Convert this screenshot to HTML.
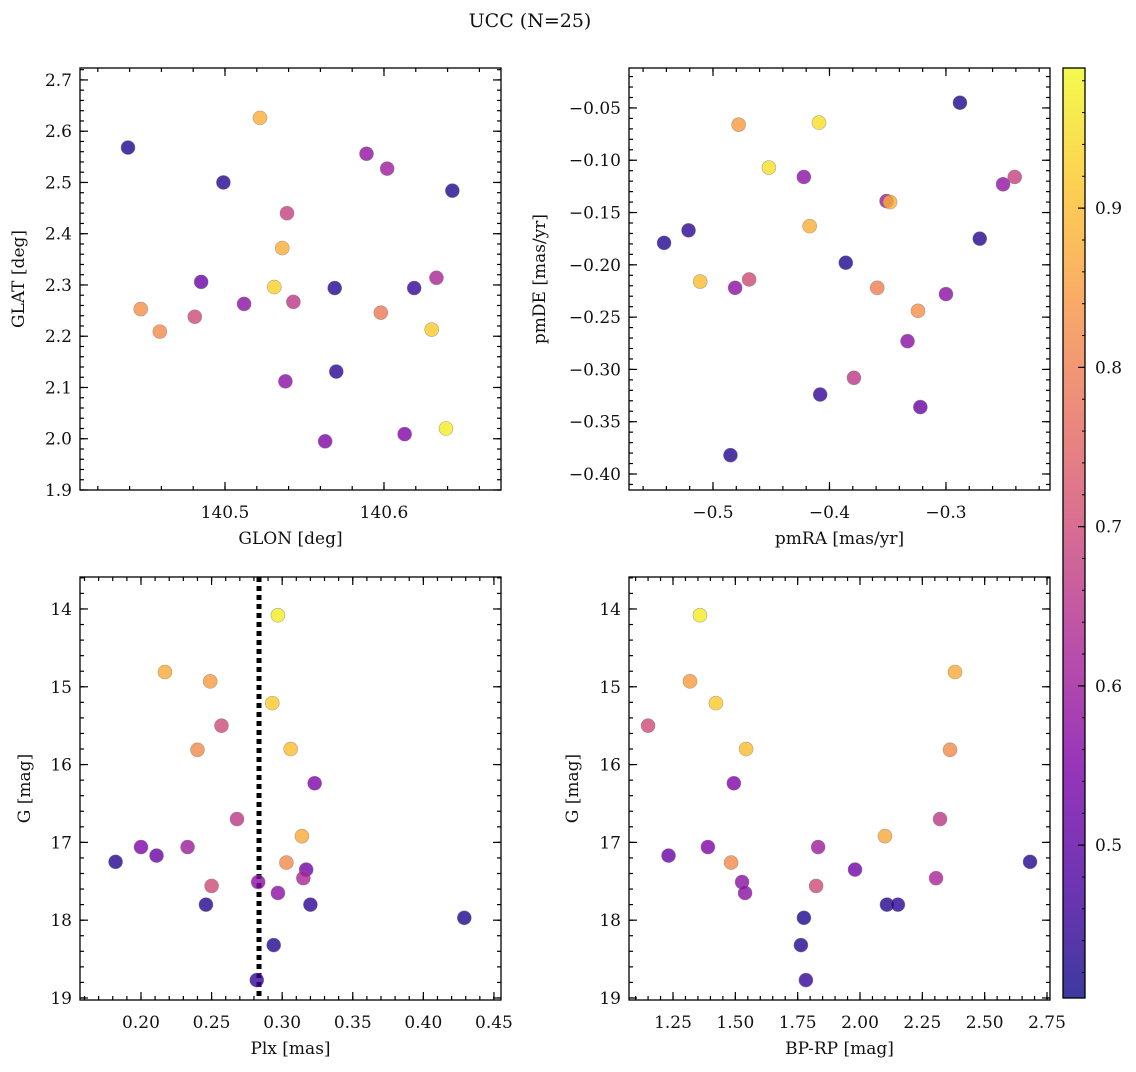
<!DOCTYPE html>
<html><head><meta charset="utf-8"><style>
html,body{margin:0;padding:0;background:#fff;}
svg text{font-family:"DejaVu Serif","Liberation Serif",serif;fill:#111;}
</style></head><body>
<svg id="fig" width="1136" height="1067" viewBox="0 0 1136 1067" xmlns="http://www.w3.org/2000/svg">
<defs>
<linearGradient id="plasma" x1="0" y1="1" x2="0" y2="0">
<stop offset="0" stop-color="#0d0887"/><stop offset="0.125" stop-color="#4c02a1"/><stop offset="0.25" stop-color="#7e03a8"/><stop offset="0.375" stop-color="#a92395"/><stop offset="0.5" stop-color="#cc4778"/><stop offset="0.625" stop-color="#e66c5c"/><stop offset="0.75" stop-color="#f89540"/><stop offset="0.875" stop-color="#fdc527"/><stop offset="1" stop-color="#f0f921"/>
</linearGradient>
</defs>
<text x="530" y="27" font-size="19" text-anchor="middle">UCC (N=25)</text>
</svg>
<script>
const probP1 = [0.42,0.88,0.43,0.58,0.60,0.42,0.68,0.88,0.93,0.83,0.52,0.82,0.70,0.57,0.66,0.43,0.79,0.45,0.62,0.92,0.57,0.44,0.55,0.55,0.97];
const glon = [140.439,140.522,140.499,140.589,140.602,140.643,140.539,140.536,140.531,140.447,140.485,140.459,140.481,140.512,140.543,140.569,140.598,140.619,140.633,140.630,140.538,140.570,140.563,140.613,140.639];
const glat = [2.568,2.626,2.500,2.556,2.527,2.484,2.440,2.372,2.296,2.253,2.306,2.209,2.238,2.263,2.267,2.294,2.246,2.294,2.314,2.213,2.112,2.131,1.995,2.009,2.020];

const probP2 = [0.42,0.85,0.95,0.95,0.57,0.58,0.68,0.60,0.88,0.43,0.44,0.88,0.43,0.42,0.90,0.57,0.70,0.80,0.57,0.83,0.57,0.66,0.45,0.52,0.43];
const pmra = [-0.288,-0.478,-0.409,-0.452,-0.422,-0.251,-0.241,-0.351,-0.348,-0.542,-0.521,-0.417,-0.271,-0.386,-0.511,-0.481,-0.469,-0.359,-0.300,-0.324,-0.333,-0.379,-0.408,-0.322,-0.485];
const pmde = [-0.045,-0.066,-0.064,-0.107,-0.116,-0.123,-0.116,-0.139,-0.140,-0.179,-0.167,-0.163,-0.175,-0.198,-0.216,-0.222,-0.214,-0.222,-0.228,-0.244,-0.273,-0.308,-0.324,-0.336,-0.382];

const probP3 = [0.97,0.87,0.85,0.92,0.70,0.82,0.90,0.55,0.66,0.87,0.43,0.55,0.52,0.60,0.82,0.53,0.62,0.70,0.57,0.57,0.43,0.44,0.42,0.43,0.45];
const gmag = [14.08,14.81,14.93,15.21,15.50,15.81,15.80,16.24,16.70,16.92,17.25,17.06,17.17,17.06,17.26,17.35,17.46,17.56,17.51,17.65,17.80,17.80,17.97,18.32,18.77];
const plx = [0.297,0.217,0.249,0.293,0.257,0.240,0.306,0.323,0.268,0.314,0.182,0.200,0.211,0.233,0.303,0.317,0.315,0.250,0.283,0.297,0.246,0.320,0.429,0.294,0.282];
const bprp = [1.358,2.381,1.318,1.422,1.150,2.361,1.543,1.494,2.321,2.100,2.682,1.390,1.232,1.832,1.483,1.980,2.305,1.824,1.527,1.539,2.108,2.152,1.775,1.763,1.783];
const plxMedian = [0.2836];

const cbTicks = [0.5,0.6,0.7,0.8,0.9];
const cbRange = [0.404,0.988];

const svg = document.getElementById('fig');
const NS = 'http://www.w3.org/2000/svg';
function mk(tag, attrs, parent){ const e=document.createElementNS(NS,tag); for(const k in attrs) e.setAttribute(k,attrs[k]); (parent||svg).appendChild(e); return e; }

const stops=[[0,[13,8,135]],[0.125,[76,2,161]],[0.25,[126,3,168]],[0.375,[169,35,149]],[0.5,[204,71,120]],[0.625,[230,108,92]],[0.75,[248,149,64]],[0.875,[253,197,39]],[1,[240,249,33]]];
function plasma(t){ t=Math.max(0,Math.min(1,t)); for(let i=1;i<stops.length;i++){ if(t<=stops[i][0]){ const a=stops[i-1],b=stops[i]; const f=(t-a[0])/(b[0]-a[0]); const c=a[1].map((v,j)=>Math.round(v+(b[1][j]-v)*f)); return 'rgb('+c.join(',')+')'; } } return 'rgb(240,249,33)'; }

function fmt(v,d){ let s=v.toFixed(d); if(s.startsWith('-')) s='\u2212'+s.slice(1); return s; }

function panel(cfg){
  const g=mk('g',{});
  
  
  const L=cfg.box[0],T=cfg.box[1],R=cfg.box[2],B=cfg.box[3];
  const sx=v=>L+(v-cfg.xd[0])/(cfg.xd[1]-cfg.xd[0])*(R-L);
  const sy=v=>cfg.yinv? T+(v-cfg.yd[0])/(cfg.yd[1]-cfg.yd[0])*(B-T) : B-(v-cfg.yd[0])/(cfg.yd[1]-cfg.yd[0])*(B-T);
  const tg=mk('g',{},g);
  
  
  function ticksX(step,len,labels,dec){
    const s=Math.ceil(cfg.xd[0]/step-1e-6);
    for(let i=s;i*step<=cfg.xd[1]+1e-9;i++){ const v=i*step, x=sx(v);
      mk('line',{x1:x,x2:x,y1:B,y2:B-len,stroke:'#000','stroke-width':1.2},tg);
      mk('line',{x1:x,x2:x,y1:T,y2:T+len,stroke:'#000','stroke-width':1.2},tg);
      if(labels){ const t=mk('text',{x:x,y:B+28,'font-size':17,'text-anchor':'middle'},tg); t.textContent=fmt(v,dec);
          }
    }
  }
  function ticksY(step,len,labels,dec){
    const lo=Math.min(cfg.yd[0],cfg.yd[1]),hi=Math.max(cfg.yd[0],cfg.yd[1]);
    const s=Math.ceil(lo/step-1e-6);
    for(let i=s;i*step<=hi+1e-9;i++){ const v=i*step, y=sy(v);
      mk('line',{x1:L,x2:L+len,y1:y,y2:y,stroke:'#000','stroke-width':1.2},tg);
      mk('line',{x1:R,x2:R-len,y1:y,y2:y,stroke:'#000','stroke-width':1.2},tg);
      if(labels){ const t=mk('text',{x:L-8,y:y+6,'font-size':17,'text-anchor':'end'},tg); t.textContent=fmt(v,dec);
          }
    }
  }
  ticksX(cfg.xmin,4,false); ticksX(cfg.xmaj,8,true,cfg.xdec);
  ticksY(cfg.ymin,4,false); ticksY(cfg.ymaj,8,true,cfg.ydec);
  if(cfg.vline!==undefined){
    const x=sx(cfg.vline);
    const vl=mk('line',{x1:x,x2:x,y1:T,y2:B,stroke:'#000','stroke-width':5,'stroke-dasharray':'5 4'},g);
     
  }
  cfg.x.forEach((xv,i)=>{
    const t=(cfg.c[i]-cbRange[0])/(cbRange[1]-cbRange[0]);
    const p=mk('circle',{cx:sx(xv),cy:sy(cfg.y[i]),r:7,fill:plasma(t),'fill-opacity':0.8,stroke:'#777','stroke-opacity':0.6,'stroke-width':0.6},g);
    
    
  });
  const fr=mk('rect',{x:L,y:T,width:R-L,height:B-T,fill:'none',stroke:'#000','stroke-width':1.3},g);
   
  const xl=mk('text',{x:(L+R)/2,y:B+54,'font-size':17,'text-anchor':'middle'},g); xl.textContent=cfg.xlabel;
   
  const cy=(T+B)/2, cx=cfg.ylx;
  const yl=mk('text',{x:cx,y:cy,'font-size':17,'text-anchor':'middle',transform:'rotate(-90 '+cx+' '+cy+')'},g); yl.textContent=cfg.ylabel;
   
}

panel({name:'glon-glat-panel',box:[80,68,501,490],xd:[140.4088,140.6736],yd:[1.9,2.7233],x:glon,y:glat,c:probP1,xmaj:0.1,xmin:0.02,ymaj:0.1,ymin:0.02,xdec:1,ydec:1,xlabel:'GLON [deg]',ylabel:'GLAT [deg]',ylx:24});
panel({name:'pm-panel',box:[629,68,1050,490],xd:[-0.5721,-0.2107],yd:[-0.4153,-0.0118],x:pmra,y:pmde,c:probP2,xmaj:0.1,xmin:0.02,ymaj:0.05,ymin:0.01,xdec:1,ydec:2,xlabel:'pmRA [mas/yr]',ylabel:'pmDE [mas/yr]',ylx:545});
panel({name:'plx-g-panel',box:[80,577,501,1000],xd:[0.1568,0.455],yd:[13.589,19.026],yinv:true,x:plx,y:gmag,c:probP3,xmaj:0.05,xmin:0.01,ymaj:1,ymin:0.2,xdec:2,ydec:0,xlabel:'Plx [mas]',ylabel:'G [mag]',ylx:30,vline:plxMedian[0]});
panel({name:'cmd-panel',box:[629,577,1050,1000],xd:[1.0735,2.762],yd:[13.589,19.026],yinv:true,x:bprp,y:gmag,c:probP3,xmaj:0.25,xmin:0.05,ymaj:1,ymin:0.2,xdec:2,ydec:0,xlabel:'BP-RP [mag]',ylabel:'G [mag]',ylx:578});

const cb=mk('g',{});


const CT=68,CB=998,CL=1063,CR=1085;
mk('rect',{x:CL,y:CT,width:CR-CL,height:CB-CT,fill:'url(#plasma)','fill-opacity':0.8},cb);
mk('rect',{x:CL,y:CT,width:CR-CL,height:CB-CT,fill:'none',stroke:'#000','stroke-width':1.3},cb);
const cby=v=>CB-(v-cbRange[0])/(cbRange[1]-cbRange[0])*(CB-CT);
for(let v=0.42;v<=cbRange[1];v+=0.02){ const y=cby(v); mk('line',{x1:CR,x2:CR-3,y1:y,y2:y,stroke:'#000','stroke-width':1},cb); }
cbTicks.forEach(v=>{ const y=cby(v);
  mk('line',{x1:CR,x2:CR-7,y1:y,y2:y,stroke:'#000','stroke-width':1.2},cb);
  const t=mk('text',{x:CR+10,y:y+6,'font-size':17},cb); t.textContent=v.toFixed(1);
   
});
</script>
</body></html>
